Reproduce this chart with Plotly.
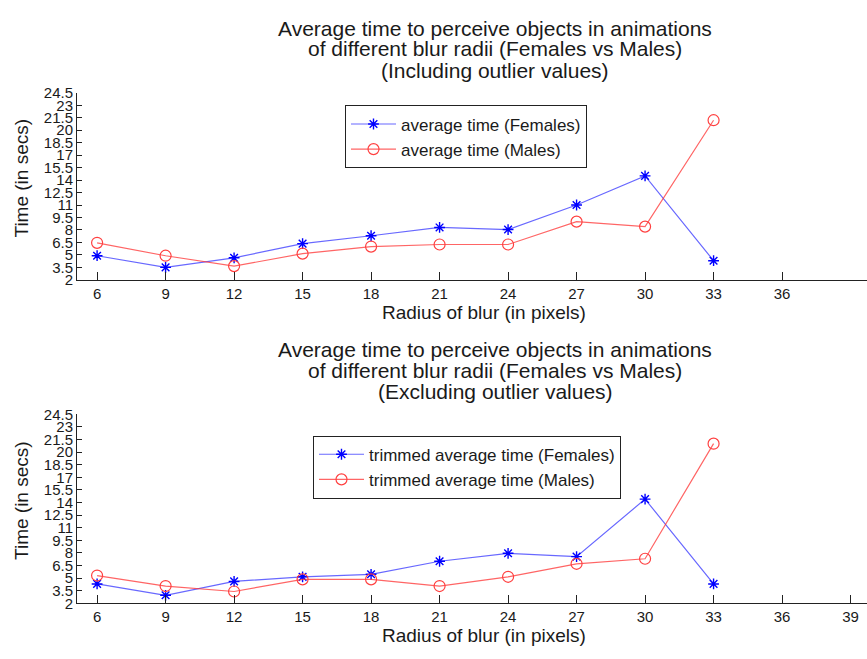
import plotly.graph_objects as go

W, H = 867, 659

radius = [6, 9, 12, 15, 18, 21, 24, 27, 30, 33]

avg_female = [4.9, 3.5, 4.65, 6.35, 7.3, 8.3, 8.05, 11.0, 14.5, 4.3]
avg_male = [6.45, 4.9, 3.65, 5.15, 6.0, 6.25, 6.25, 9.0, 8.4, 21.2]

trim_female = [4.3, 2.95, 4.6, 5.15, 5.45, 7.0, 7.95, 7.55, 14.4, 4.3]
trim_male = [5.3, 4.05, 3.4, 4.85, 4.85, 4.05, 5.15, 6.7, 7.3, 21.0]

ytick_vals = [2, 3.5, 5, 6.5, 8, 9.5, 11, 12.5, 14, 15.5, 17, 18.5, 20, 21.5, 23, 24.5]
ytick_text = ["2", "3.5", "5", "6.5", "8", "9.5", "11", "12.5", "14", "15.5",
              "17", "18.5", "20", "21.5", "23", "24.5"]
xtick_top = [6, 9, 12, 15, 18, 21, 24, 27, 30, 33, 36]
xtick_bottom = [6, 9, 12, 15, 18, 21, 24, 27, 30, 33, 36, 39]

title_top = ["Average time to perceive objects in animations",
             "of different blur radii (Females vs Males)",
             "(Including outlier values)"]
title_bottom = ["Average time to perceive objects in animations",
                "of different blur radii (Females vs Males)",
                "(Excluding outlier values)"]

FONT = "Liberation Sans, Arial, sans-serif"
TXT = "#1a1a1a"

fig = go.Figure()

def add_pair(f_vals, m_vals, f_name, m_name, xa, ya, legend):
    fig.add_trace(go.Scatter(
        x=radius, y=f_vals, name=f_name, mode="lines+markers",
        line=dict(color="rgba(40,40,255,0.7)", width=1.2),
        marker=dict(symbol="asterisk-open", size=9, color="#0000ff",
                    line=dict(color="#0000ff", width=1.4)),
        xaxis=xa, yaxis=ya, legend=legend))
    fig.add_trace(go.Scatter(
        x=radius, y=m_vals, name=m_name, mode="lines+markers",
        line=dict(color="rgba(255,50,50,0.75)", width=1.2),
        marker=dict(symbol="circle-open", size=11, color="#ff4040",
                    line=dict(color="#ff4040", width=1.2)),
        xaxis=xa, yaxis=ya, legend=legend))

add_pair(avg_female, avg_male, "average time (Females)", "average time (Males)", "x", "y", "legend")
add_pair(trim_female, trim_male, "trimmed average time (Females)", "trimmed average time (Males)", "x2", "y2", "legend2")

xdom = [77 / W, 1.0]
xr = [5.12, 39.72]
yr = [2, 24.5]

def yd(top_px, bot_px):
    return [1 - bot_px / H, 1 - top_px / H]

axis_common = dict(showline=True, linecolor="#222", linewidth=1, ticks="inside",
                   tickcolor="#222", showgrid=False, zeroline=False,
                   tickfont=dict(family=FONT, size=15, color=TXT), mirror=False)

legend_common = dict(xanchor="left", yanchor="top", bgcolor="white", bordercolor="#222",
                     borderwidth=1, font=dict(family=FONT, size=17, color=TXT),
                     tracegroupgap=0, itemwidth=45)

fig.update_layout(
    width=W, height=H, margin=dict(l=0, r=0, t=0, b=0),
    paper_bgcolor="white", plot_bgcolor="white",
    font=dict(family=FONT, color=TXT),
    xaxis=dict(domain=xdom, range=xr, tickmode="array", tickvals=xtick_top,
               ticklen=8, anchor="y", **axis_common),
    yaxis=dict(domain=yd(86, 278), range=yr, tickmode="array", tickvals=ytick_vals,
               ticktext=ytick_text, ticklen=5, anchor="x", **axis_common),
    xaxis2=dict(domain=xdom, range=xr, tickmode="array", tickvals=xtick_bottom,
                ticklen=8, anchor="y2", **axis_common),
    yaxis2=dict(domain=yd(416, 610), range=yr, tickmode="array", tickvals=ytick_vals,
                ticktext=ytick_text, ticklen=5, anchor="x2", **axis_common),
    legend=dict(x=345 / W, y=1 - 99 / H, **legend_common),
    legend2=dict(x=313 / W, y=1 - 438 / H, **legend_common),
    showlegend=True,
)

annotations = []
for lines, ys in ((title_top, [20, 41, 63]), (title_bottom, [350, 371, 393])):
    for t, yp in zip(lines, ys):
        annotations.append(dict(text=t, x=495 / W, y=1 - yp / H, xref="paper", yref="paper",
                                xanchor="center", yanchor="middle", showarrow=False,
                                font=dict(family=FONT, size=21, color=TXT)))
for yp in (312, 643):
    annotations.append(dict(text="Radius of blur (in pixels)", x=484 / W, y=1 - yp / H,
                            xref="paper", yref="paper", xanchor="center", yanchor="middle",
                            showarrow=False, font=dict(family=FONT, size=19, color=TXT)))
for yp in (174, 505):
    annotations.append(dict(text="Time (in secs)", x=22 / W, y=1 - yp / H, textangle=-90,
                            xref="paper", yref="paper", xanchor="center", yanchor="middle",
                            showarrow=False, font=dict(family=FONT, size=19, color=TXT)))
fig.update_layout(annotations=annotations)

fig.write_html("out.html")
